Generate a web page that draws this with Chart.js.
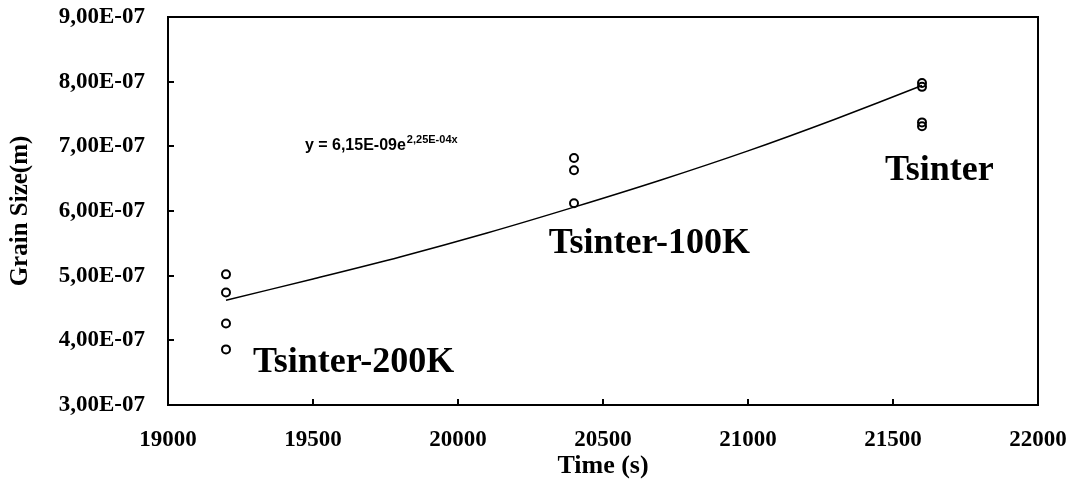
<!DOCTYPE html>
<html>
<head>
<meta charset="utf-8">
<script src="https://cdn.jsdelivr.net/npm/chart.js@4/dist/chart.umd.min.js"></script>
<style>
    body { margin: 0; background: #fff; }
    canvas { display: block; }
</style>
</head>
<body>
<canvas id="myChart" width="1073" height="488"></canvas>
<script>
// measured grain sizes at each sintering time
const times = [19200, 20400, 21600]
const grainSizes200K = [5.02e-7, 4.74e-7, 4.26e-7, 3.86e-7]
const grainSizes100K = [6.82e-7, 6.63e-7, 6.12e-7]
const grainSizesTsinter = [7.98e-7, 7.92e-7, 7.37e-7, 7.31e-7]

// exponential trendline
const trendTimes = [19200, 19500, 19800, 20100, 20400, 20700, 21000, 21300, 21600]
const trendSizes = [4.62e-7, 4.95e-7, 5.29e-7, 5.66e-7, 6.06e-7, 6.48e-7, 6.93e-7, 7.42e-7, 7.94e-7]

const xTicks = [19000, 19500, 20000, 20500, 21000, 21500, 22000]
const yTicks = [3e-7, 4e-7, 5e-7, 6e-7, 7e-7, 8e-7, 9e-7]

const labels = [
    {text: 'Tsinter-200K', x: 19640, y: 3.66e-7},
    {text: 'Tsinter-100K', x: 20660, y: 5.50e-7},
    {text: 'Tsinter', x: 21660, y: 6.63e-7}
]
const equation = {main: 'y = 6,15E-09e', sup: '2,25E-04x', x: 19472, y: 7.02e-7}

const serif = '"Liberation Serif", "Times New Roman", serif'

const toPoints = (x, values) => values.map(v => ({x: x, y: v}))

const formatExp = (value) => {
    const [mantissa, exp] = value.toExponential(2).split('e')
    const n = parseInt(exp)
    const strExp = (n < 0 ? '-' : '+') + `${Math.abs(n)}`.padStart(2, '0')
    return mantissa.replace('.', ',') + 'E' + strExp
}

const frame = {
    id: 'frame',
    afterDraw(chart) {
        const ctx = chart.ctx
        const area = chart.chartArea
        const xs = chart.scales.x
        const ys = chart.scales.y
        ctx.save()
        ctx.strokeStyle = '#000'
        ctx.lineWidth = 2
        ctx.strokeRect(area.left, area.top, area.right - area.left, area.bottom - area.top)

        // inward tick marks
        ctx.beginPath()
        for (const t of xTicks) {
            const px = Math.round(xs.getPixelForValue(t))
            ctx.moveTo(px, area.bottom)
            ctx.lineTo(px, area.bottom - 6)
        }
        for (const t of yTicks) {
            const py = Math.round(ys.getPixelForValue(t))
            ctx.moveTo(area.left, py)
            ctx.lineTo(area.left + 6, py)
        }
        ctx.stroke()

        // region labels
        ctx.fillStyle = '#000'
        ctx.font = `bold 36px ${serif}`
        ctx.textAlign = 'center'
        ctx.textBaseline = 'middle'
        for (const l of labels) {
            ctx.fillText(l.text, xs.getPixelForValue(l.x), ys.getPixelForValue(l.y))
        }

        // trendline equation
        const ex = xs.getPixelForValue(equation.x)
        const ey = ys.getPixelForValue(equation.y)
        ctx.textAlign = 'left'
        ctx.textBaseline = 'alphabetic'
        ctx.font = 'bold 16px "Liberation Sans", Arial, sans-serif'
        ctx.fillText(equation.main, ex, ey + 5)
        const w = ctx.measureText(equation.main).width
        ctx.font = 'bold 11px "Liberation Sans", Arial, sans-serif'
        ctx.fillText(equation.sup, ex + w + 1, ey - 2)
        ctx.restore()
    }
}

const ctx = document.getElementById('myChart').getContext('2d')

const myChart = new Chart(ctx, {
    type: 'scatter',
    data: {
        datasets: [{
            label: 'trend',
            type: 'line',
            data: trendTimes.map((t, i) => ({x: t, y: trendSizes[i]})),
            borderColor: '#000',
            borderWidth: 1.5,
            pointRadius: 0,
            tension: 0.3,
            fill: false
        }, {
            label: 'Tsinter-200K',
            data: toPoints(times[0], grainSizes200K)
        }, {
            label: 'Tsinter-100K',
            data: toPoints(times[1], grainSizes100K)
        }, {
            label: 'Tsinter',
            data: toPoints(times[2], grainSizesTsinter)
        }]
    },
    options: {
        responsive: false,
        animation: false,
        devicePixelRatio: 1,
        layout: {padding: {left: 0, right: 35, top: 17, bottom: 0}},
        elements: {
            point: {
                radius: 4,
                borderWidth: 2,
                borderColor: '#000',
                backgroundColor: 'rgba(0,0,0,0)'
            }
        },
        plugins: {
            legend: {display: false},
            tooltip: {enabled: false}
        },
        scales: {
            x: {
                type: 'linear',
                min: 19000,
                max: 22000,
                afterBuildTicks: (scale) => { scale.ticks = xTicks.map(v => ({value: v})) },
                afterFit: (scale) => {
                    scale.height = 83
                    scale.paddingLeft = 0
                    scale.paddingRight = 0
                },
                grid: {display: false, drawTicks: false},
                border: {display: false},
                ticks: {
                    color: '#000',
                    padding: 21,
                    maxRotation: 0,
                    font: {family: serif, size: 23, weight: 'bold'},
                    callback: (value) => `${value}`
                },
                title: {
                    display: true,
                    text: 'Time (s)',
                    color: '#000',
                    font: {family: serif, size: 26, weight: 'bold'},
                    padding: {top: 0, bottom: 6}
                }
            },
            y: {
                type: 'linear',
                min: 3e-7,
                max: 9e-7,
                afterBuildTicks: (scale) => { scale.ticks = yTicks.map(v => ({value: v})) },
                afterFit: (scale) => {
                    scale.width = 168
                    scale.paddingTop = 0
                    scale.paddingBottom = 0
                },
                grid: {display: false, drawTicks: false},
                border: {display: false},
                ticks: {
                    color: '#000',
                    padding: 23,
                    font: {family: serif, size: 23, weight: 'bold'},
                    callback: (value) => formatExp(value)
                },
                title: {
                    display: true,
                    text: 'Grain Size(m)',
                    color: '#000',
                    font: {family: serif, size: 25, weight: 'bold'},
                    padding: {top: 6, bottom: 0}
                }
            }
        }
    },
    plugins: [frame]
})
</script>
</body>
</html>
